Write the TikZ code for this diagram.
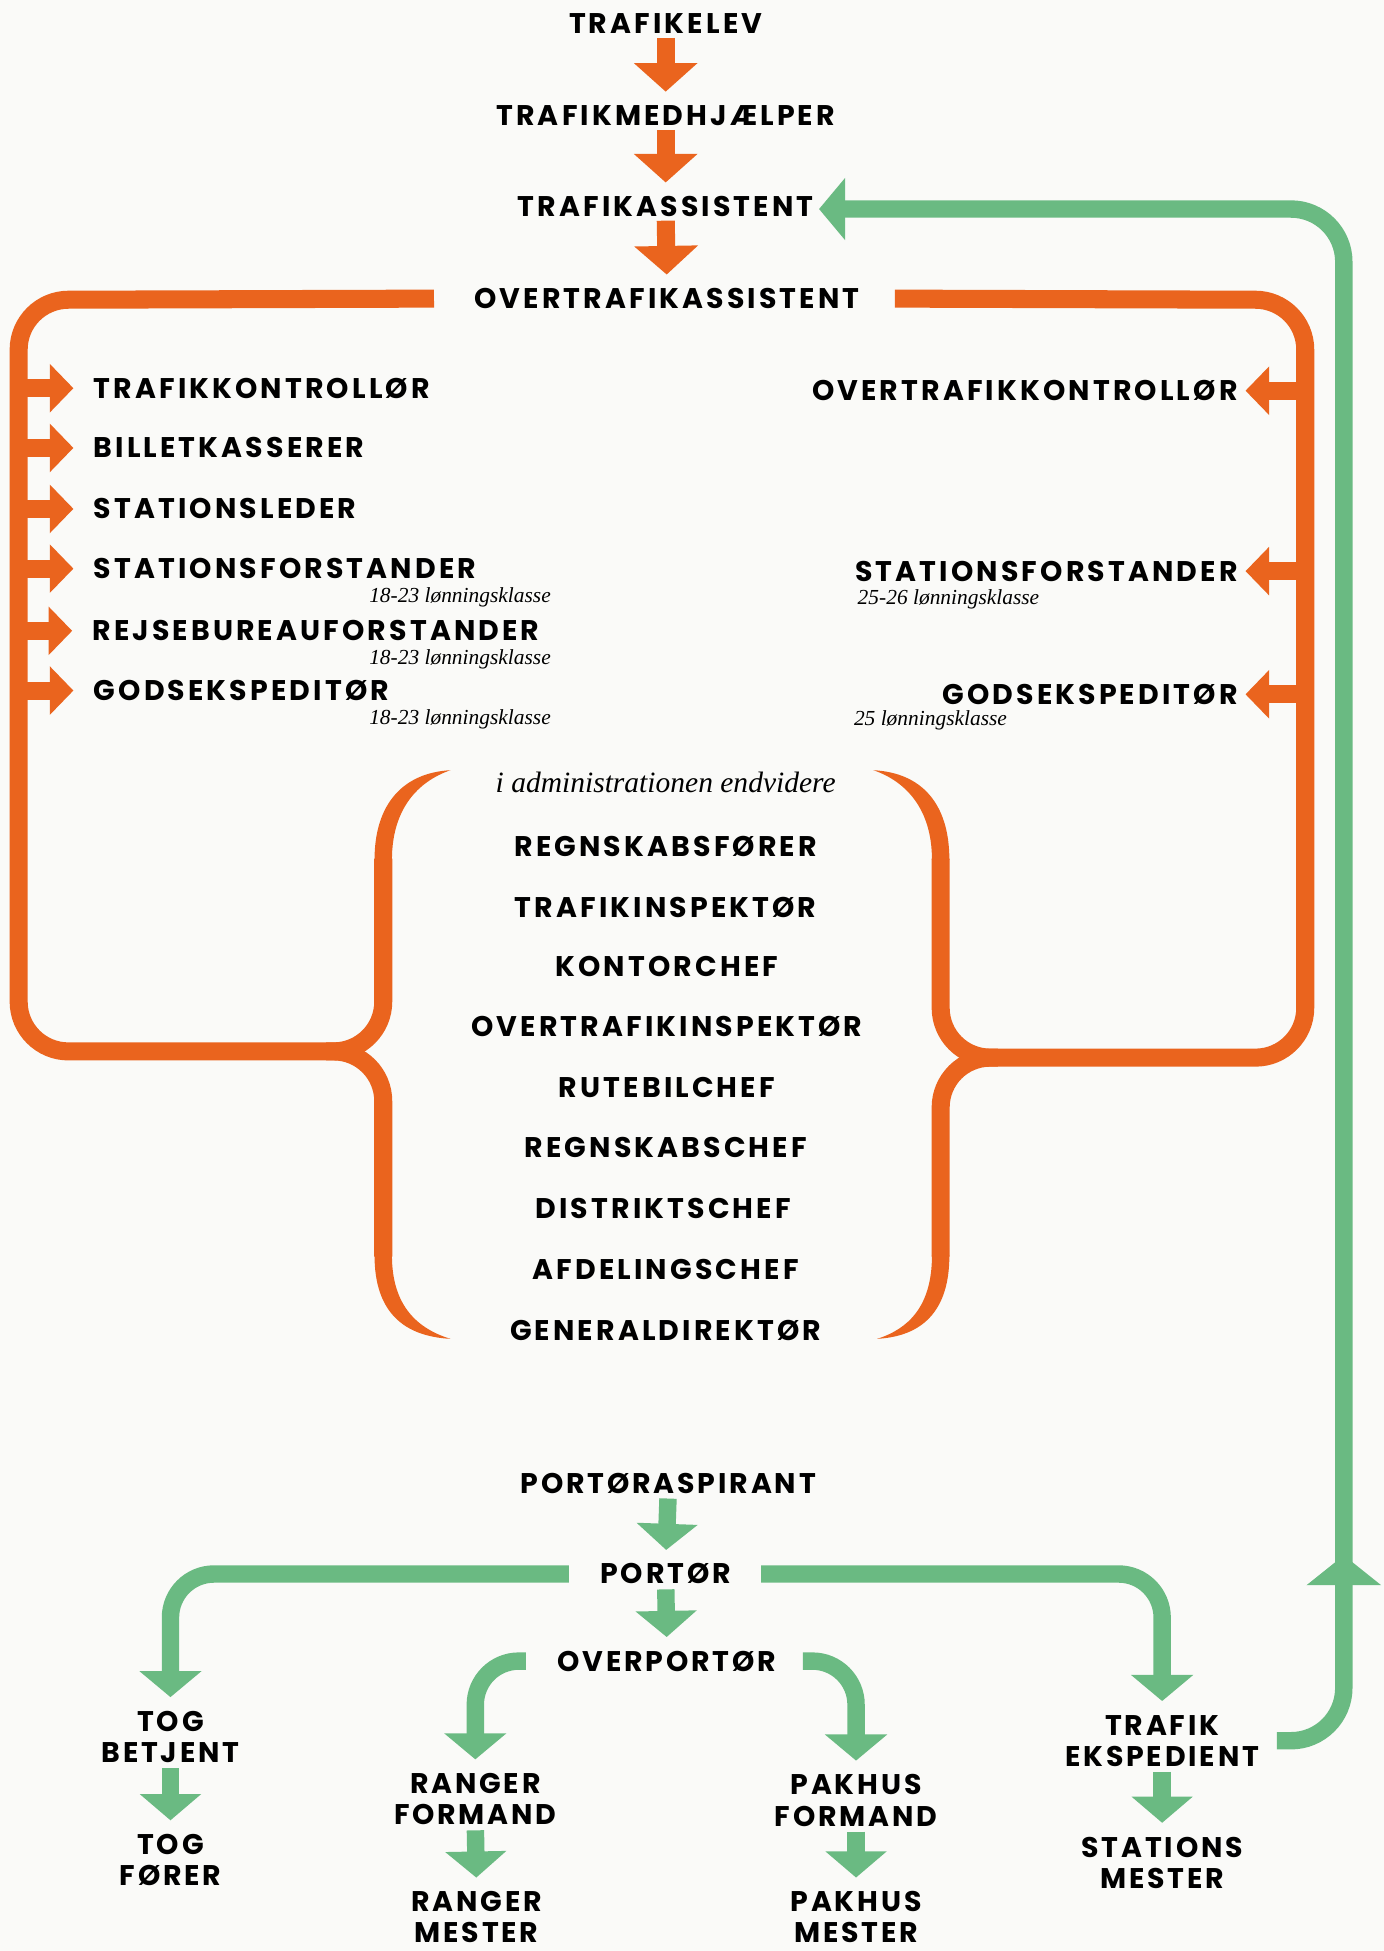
\documentclass[tikz,border=0pt]{standalone}
\usepackage{fontspec}
\usetikzlibrary{arrows.meta,calc}
\newfontfamily\labfam{Poppins}[LetterSpace=11]
\newfontfamily\glabfam{Poppins}[LetterSpace=10]
\newfontfamily\annfam{Liberation Serif}
\definecolor{orng}{RGB}{234,100,30}
\definecolor{grn}{RGB}{106,186,130}
\definecolor{bgc}{RGB}{250,250,248}
\newcommand\labfont{\labfam\bfseries\fontsize{13pt}{14.2pt}\selectfont}
\newcommand\glabfont{\glabfam\bfseries\fontsize{13pt}{14.2pt}\selectfont}
\newcommand\annfont{\annfam\itshape\fontsize{9.8pt}{11pt}\selectfont}
\newcommand\headfont{\annfam\itshape\fontsize{13.5pt}{15pt}\selectfont}
\tikzset{
 lab/.style={font=\labfont, inner sep=0pt, text height=0.32cm, text depth=0pt},
 glab/.style={font=\glabfont, inner sep=0pt, text height=0.32cm, text depth=0pt},
 lab2/.style={font=\glabfont, inner sep=0pt, align=center},
 ann/.style={font=\annfont, inner sep=0pt},
 oline/.style={draw=orng, line width=0.29cm},
 gline/.style={draw=grn, line width=0.28cm},
 odown/.style={oline, -{Triangle[length=0.46cm,width=1.0cm]}, shorten <=0.06cm, shorten >=0.22cm},
 oside/.style={oline, -{Triangle[length=0.38cm,width=0.76cm]}},
 gdown/.style={gline, -{Triangle[length=0.42cm,width=0.96cm]}, shorten <=0.08cm, shorten >=0.22cm},
 gbend/.style={gline, rounded corners=0.7cm, -{Triangle[length=0.42cm,width=0.98cm]}, shorten >=0.22cm},
}
\begin{document}
\begin{tikzpicture}[x=0.02cm,y=-0.02cm]
\fill[bgc] (0,0) rectangle (1112,1568);
\useasboundingbox (0,0) rectangle (1112,1568);

% top chain
\node[lab] (t1) at (535,19) {TRAFIKELEV};
\node[lab] (t2) at (535,93) {TRAFIKMEDHJÆLPER};
\node[lab] (t3) at (535,166) {TRAFIKASSISTENT};
\node[lab] (t4) at (536,240) {OVERTRAFIKASSISTENT};
\draw[odown] (t1.south) -- (t2.north);
\draw[odown] (t2.south) -- (t3.north);
\draw[odown] (t3.south) -- (t4.north);

% left list
\node[lab,anchor=west] (l1) at (75,312) {TRAFIKKONTROLLØR};
\node[lab,anchor=west] (l2) at (75,360) {BILLETKASSERER};
\node[lab,anchor=west] (l3) at (75,409) {STATIONSLEDER};
\node[lab,anchor=west] (l4) at (75,457) {STATIONSFORSTANDER};
\node[lab,anchor=west] (l5) at (74,507) {REJSEBUREAUFORSTANDER};
\node[lab,anchor=west] (l6) at (75,555) {GODSEKSPEDITØR};
\node[ann,anchor=base east] (a4) at (443,484) {18-23 lønningsklasse};
\node[ann,anchor=base east] (a5) at (443,534) {18-23 lønningsklasse};
\node[ann,anchor=base east] (a6) at (443,582) {18-23 lønningsklasse};

% right list
\node[lab,anchor=east] (r1) at (995,314) {OVERTRAFIKKONTROLLØR};
\node[lab,anchor=east] (r2) at (995,459) {STATIONSFORSTANDER};
\node[lab,anchor=east] (r3) at (995,558) {GODSEKSPEDITØR};
\node[ann,anchor=base west] (b2) at (689,486) {25-26 lønningsklasse};
\node[ann,anchor=base west] (b3) at (686,583) {25 lønningsklasse};

% administration
\node[font=\headfont, inner sep=0pt, anchor=base] (hd) at (535,637) {i administrationen endvidere};
\node[lab] (m1) at (535,680) {REGNSKABSFØRER};
\node[lab] (m2) at (535,729) {TRAFIKINSPEKTØR};
\node[lab] (m3) at (536,777) {KONTORCHEF};
\node[lab] (m4) at (536,825) {OVERTRAFIKINSPEKTØR};
\node[lab] (m5) at (536,874) {RUTEBILCHEF};
\node[lab] (m6) at (535,922) {REGNSKABSCHEF};
\node[lab] (m7) at (533,971) {DISTRIKTSCHEF};
\node[lab] (m8) at (535,1020) {AFDELINGSCHEF};
\node[lab] (m9) at (535,1069) {GENERALDIREKTØR};

% orange frame left
\coordinate (barL) at (15,300);
\coordinate (barR) at (1049,300);
\draw[oline, rounded corners=0.8cm] ($(t4.west)+(-32,0)$) -- (15,241) -- (15,845) -- (308,845) -- (308,690);
\draw[oline, rounded corners=0.8cm] (262,845) -- (308,845) -- (308,1010);
\fill[orng] (301,691) .. controls (301,645) and (325,621) .. (362,619) .. controls (336,628) and (315,650) .. (315,691) -- cycle;
\fill[orng] (301,1009) .. controls (301,1055) and (325,1074) .. (362,1076) .. controls (336,1068) and (315,1050) .. (315,1009) -- cycle;
% orange frame right
\draw[oline, rounded corners=0.8cm] ($(t4.east)+(28,0)$) -- (1049,241) -- (1049,850) -- (756,850) -- (756,690);
\draw[oline, rounded corners=0.8cm] (802,850) -- (756,850) -- (756,1010);
\fill[orng] (763,691) .. controls (763,645) and (740,621) .. (702,619) .. controls (728,628) and (749,650) .. (749,691) -- cycle;
\fill[orng] (763,1009) .. controls (763,1055) and (740,1074) .. (705,1076) .. controls (730,1068) and (749,1050) .. (749,1009) -- cycle;

% side arrows
\foreach \n in {l1,l2,l3,l4,l5,l6}
  \draw[oside, shorten >=0.32cm] (\n.west -| barL) -- (\n.west);
\foreach \n in {r1,r2,r3}
  \draw[oside, shorten >=0.12cm] (\n.east -| barR) -- (\n.east);

% green section
\node[glab] (p0) at (537,1192) {PORTØRASPIRANT};
\node[glab] (p1) at (535,1265) {PORTØR};
\node[glab] (p2) at (536,1335) {OVERPORTØR};
\node[lab2] (g1) at (137,1396) {TOG\\BETJENT};
\node[lab2] (g2) at (137,1495) {TOG\\FØRER};
\node[lab2] (rf) at (382,1446) {RANGER\\FORMAND};
\node[lab2] (rm) at (383,1541) {RANGER\\MESTER};
\node[lab2] (pf) at (688,1447) {PAKHUS\\FORMAND};
\node[lab2] (pm) at (688,1541) {PAKHUS\\MESTER};
\node[lab2] (te) at (934,1399) {TRAFIK\\EKSPEDIENT};
\node[lab2] (sm) at (934,1497) {STATIONS\\MESTER};

\draw[gdown] (p0.south) -- (p1.north);
\draw[gdown] (p1.south) -- (p2.north);
\draw[gdown] (g1.south) -- (g2.north);
\draw[gdown] (rf.south) -- (rm.north);
\draw[gdown] (pf.south) -- (pm.north);
\draw[gdown] (te.south) -- (sm.north);

\draw[gbend] ($(p1.west)+(-25,0)$) -- (p1.west -| g1.north) -- (g1.north);
\draw[gbend] ($(p1.east)+(24,0)$) -- (p1.east -| te.north) -- (te.north);
\draw[gbend] ($(p2.west)+(-25,0)$) -- (p2.west -| rf.north) -- (rf.north);
\draw[gbend] ($(p2.east)+(21,0)$) -- (p2.east -| pf.north) -- (pf.north);

% green return
\coordinate (gR) at (1080,0);
\draw[gline, rounded corners=0.85cm, -{Triangle[length=0.42cm,width=0.98cm]}, shorten >=0.08cm]
  ($(te.east)+(14,0)$) -- (te.east -| gR) -- ([yshift=-0.04cm]t3.east -| gR) -- ([yshift=-0.04cm]t3.east);
\fill[grn] (1080,1250) -- (1110,1274) -- (1050,1274) -- cycle;
\end{tikzpicture}
\end{document}
